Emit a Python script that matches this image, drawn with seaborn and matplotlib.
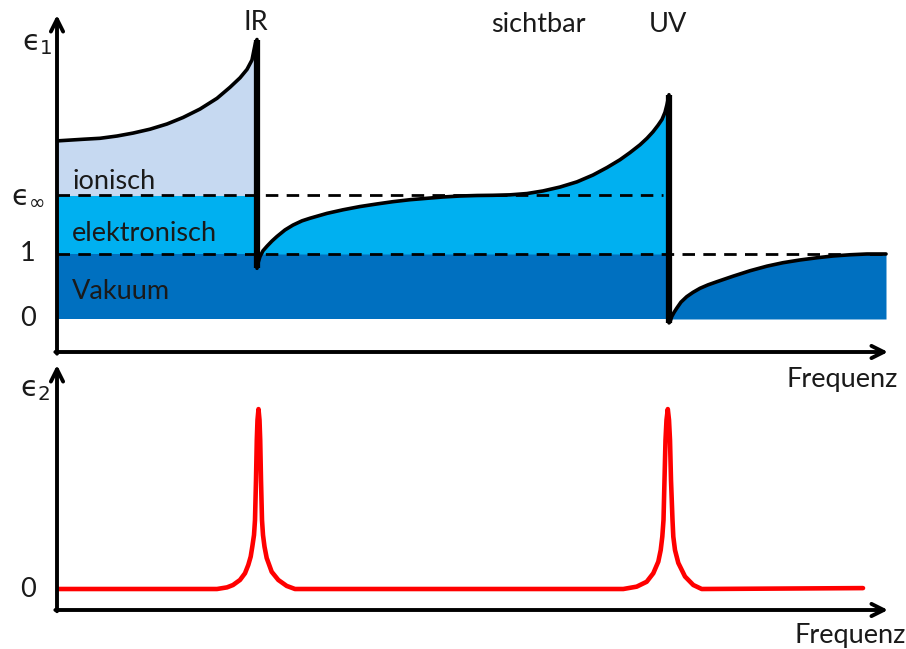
import numpy as np
import matplotlib
matplotlib.use("Agg")
import matplotlib.pyplot as plt
import seaborn as sns

sns.set_theme(style="white")
plt.rcParams["font.family"] = ["Lato", "DejaVu Sans"]
plt.rcParams["mathtext.fontset"] = "custom"
plt.rcParams["mathtext.rm"] = "DejaVu Sans"
plt.rcParams["mathtext.it"] = "DejaVu Sans"

# --- real part eps1 (frequency in arbitrary units) ---
# ionic branch, below the IR resonance
ion_freq = [0.00, 0.26, 0.43, 0.60, 0.76, 0.93, 1.10, 1.26, 1.43, 1.60, 1.73, 1.83,
            1.90, 1.95, 1.97, 1.985, 2.00]
ion_eps1 = [2.74, 2.765, 2.78, 2.815, 2.86, 2.92, 3.00, 3.10, 3.23, 3.395, 3.565, 3.71,
            3.84, 3.985, 4.14, 4.25, 4.30]
# electronic branch, between IR and UV
el_freq = [2.00, 2.01, 2.03, 2.06, 2.10, 2.15, 2.20, 2.28, 2.36, 2.45, 2.53, 2.70, 2.86,
           3.03, 3.20, 3.36, 3.53, 3.70, 3.86, 4.03, 4.20, 4.36, 4.53, 4.70, 4.86, 5.03,
           5.20, 5.36, 5.50, 5.63, 5.73, 5.83, 5.90, 5.96, 6.01, 6.05, 6.08, 6.10, 6.12]
el_eps1 = [0.78, 0.86, 0.96, 1.05, 1.12, 1.20, 1.27, 1.37, 1.445, 1.51, 1.55, 1.625, 1.68,
           1.73, 1.77, 1.805, 1.835, 1.857, 1.877, 1.892, 1.90, 1.903, 1.91, 1.93, 1.97, 2.03,
           2.11, 2.215, 2.33, 2.45, 2.56, 2.68, 2.78, 2.88, 2.98, 3.07, 3.18, 3.30, 3.45]
# vacuum branch, above the UV resonance
vac_freq = [6.12, 6.13, 6.147, 6.17, 6.197, 6.24, 6.297, 6.36, 6.43, 6.51, 6.60, 6.76,
            6.93, 7.10, 7.26, 7.43, 7.60, 7.76, 7.93, 8.10, 8.29]
vac_eps1 = [-0.06, -0.045, 0.035, 0.10, 0.165, 0.26, 0.343, 0.41, 0.472, 0.525, 0.574,
            0.658, 0.742, 0.813, 0.866, 0.908, 0.942, 0.969, 0.988, 1.00, 1.00]

eps_inf = 1.9
eps_vac = 1.0

# --- imaginary part eps2 ---
eps2_freq = [0.00, 1.60, 1.70, 1.76, 1.83, 1.88, 1.913, 1.937, 1.953, 1.97, 1.98, 1.99,
             1.998, 2.005, 2.015, 2.025, 2.032, 2.04, 2.05, 2.06, 2.075, 2.097, 2.147,
             2.213, 2.297, 2.38,
             5.663, 5.797, 5.897, 5.963, 6.013, 6.037, 6.053, 6.065, 6.075, 6.085, 6.095,
             6.108, 6.12, 6.13, 6.14, 6.155, 6.163, 6.18, 6.213, 6.28, 6.363, 6.447, 8.06]
eps2_vals = [0.0, 0.0, 0.009, 0.022, 0.050, 0.087, 0.133, 0.179, 0.234, 0.298, 0.381, 0.602,
             0.823, 0.934, 0.994, 0.934, 0.823, 0.602, 0.381, 0.298, 0.234, 0.171, 0.095,
             0.050, 0.017, 0.0,
             0.0, 0.013, 0.040, 0.087, 0.151, 0.215, 0.289, 0.381, 0.602, 0.823, 0.934,
             0.994, 0.934, 0.823, 0.602, 0.381, 0.289, 0.215, 0.144, 0.069, 0.022, 0.0, 0.005]

band_labels = ["ionisch", "elektronisch", "Vakuum"]
region_labels = ["IR", "sichtbar", "UV"]
x_label = "Frequenz"

c_ion = "#c6d9f1"
c_el = "#00b0f0"
c_vac = "#0070c0"
c_text = "#1a1a1a"

W, H = 906, 649
fig = plt.figure(figsize=(W / 100, H / 100), dpi=100)

ax1 = fig.add_axes([57 / W, 297 / H, 831 / W, 337 / H])
ax2 = fig.add_axes([57 / W, 39 / H, 831 / W, 245 / H])

ax1.set_xlim(0, 8.31)
ax1.set_ylim(-0.508, 4.677)
ax2.set_xlim(0, 8.31)
ax2.set_ylim(-0.116, 1.2376)

ion_f = np.array(ion_freq)
ion_e = np.array(ion_eps1)
el_f = np.array(el_freq)
el_e = np.array(el_eps1)
vac_f = np.array(vac_freq)
vac_e = np.array(vac_eps1)
ir_f = ion_f[-1]
uv_f = el_f[-1]

# filled contributions
ax1.fill_between([0, uv_f], 0, eps_vac, color=c_vac, lw=0, zorder=1)
ax1.fill_between([0, ir_f], eps_vac, eps_inf, color=c_el, lw=0, zorder=1)
ax1.fill_between(ion_f, eps_inf, ion_e, color=c_ion, lw=0, zorder=1)
ax1.fill_between(el_f, eps_vac, np.maximum(el_e, eps_vac), color=c_el, lw=0, zorder=1)
ax1.fill_between(vac_f, 0, np.maximum(vac_e, 0), color=c_vac, lw=0, zorder=1)

# reference levels
ax1.hlines(eps_inf, 0, uv_f - 0.06, colors="black", lw=2, linestyles=(0, (4.5, 3)), zorder=2)
ax1.hlines(eps_vac, 0, vac_f[-1], colors="black", lw=2, linestyles=(0, (4.5, 3)), zorder=2)

# eps1 curve
for f, e in [(ion_f, ion_e), (el_f, el_e), (vac_f, vac_e)]:
    sns.lineplot(x=f, y=e, ax=ax1, color="black", lw=2.6, sort=False, estimator=None,
                 zorder=3, solid_joinstyle="round")
ax1.plot([ir_f, ir_f], [el_e[0], ion_e[-1]], color="black", lw=4.5, solid_capstyle="butt", zorder=4)
ax1.plot([uv_f, uv_f], [vac_e[0], el_e[-1]], color="black", lw=4.5, solid_capstyle="butt", zorder=4)

# eps2 curve
sns.lineplot(x=eps2_freq, y=eps2_vals, ax=ax2, color="#ff0000", lw=3.3, sort=False,
             estimator=None, zorder=3, solid_joinstyle="round")

for ax in (ax1, ax2):
    for s in ax.spines.values():
        s.set_visible(False)
    ax.set_xticks([])
    ax.set_yticks([])
    ax.set_xlabel("")
    ax.set_ylabel("")
    ax.patch.set_alpha(0)
    arrow = dict(arrowstyle="->", lw=2.8, color="black", mutation_scale=22, shrinkA=0, shrinkB=0)
    ax.annotate("", xy=(1, 0), xytext=(-0.002, 0), xycoords="axes fraction", arrowprops=arrow)
    ax.annotate("", xy=(0, 1), xytext=(0, -0.005), xycoords="axes fraction", arrowprops=arrow)

fs = 19.5
# level labels
tr1 = ax1.get_yaxis_transform()
ax1.text(-0.035, 0, "0", transform=tr1, ha="center", va="center", fontsize=fs, color=c_text)
ax1.text(-0.035, eps_vac, "1", transform=tr1, ha="center", va="center", fontsize=fs, color=c_text)
ax1.text(-0.035, eps_inf, "$ϵ_{∞}$", transform=tr1, ha="center", va="center",
         fontsize=fs + 1, color=c_text)
ax2.text(-0.035, 0, "0", transform=ax2.get_yaxis_transform(), ha="center", va="center",
         fontsize=fs, color=c_text)

# axis names
fig.text(22 / W, 1 - 44 / H, "$ϵ_{1}$", ha="left", va="center", fontsize=fs + 1, color=c_text)
fig.text(20 / W, 1 - 390 / H, "$ϵ_{2}$", ha="left", va="center", fontsize=fs + 1, color=c_text)
fig.text(842 / W, 1 - 380 / H, x_label, ha="center", va="center", fontsize=fs, color=c_text)
fig.text(850 / W, 1 - 636 / H, x_label, ha="center", va="center", fontsize=fs, color=c_text)

# band labels
ax1.text(0.15, 2.12, band_labels[0], ha="left", va="center", fontsize=fs, color=c_text, zorder=5)
ax1.text(0.15, 1.32, band_labels[1], ha="left", va="center", fontsize=fs, color=c_text, zorder=5)
ax1.text(0.15, 0.43, band_labels[2], ha="left", va="center", fontsize=fs, color=c_text, zorder=5)

# spectral regions
fig.text(256 / W, 1 - 22 / H, region_labels[0], ha="center", va="center", fontsize=fs, color=c_text)
fig.text(538 / W, 1 - 25 / H, region_labels[1], ha="center", va="center", fontsize=fs, color=c_text)
fig.text(668 / W, 1 - 25 / H, region_labels[2], ha="center", va="center", fontsize=fs, color=c_text)

fig.savefig("out.png", dpi=100)
